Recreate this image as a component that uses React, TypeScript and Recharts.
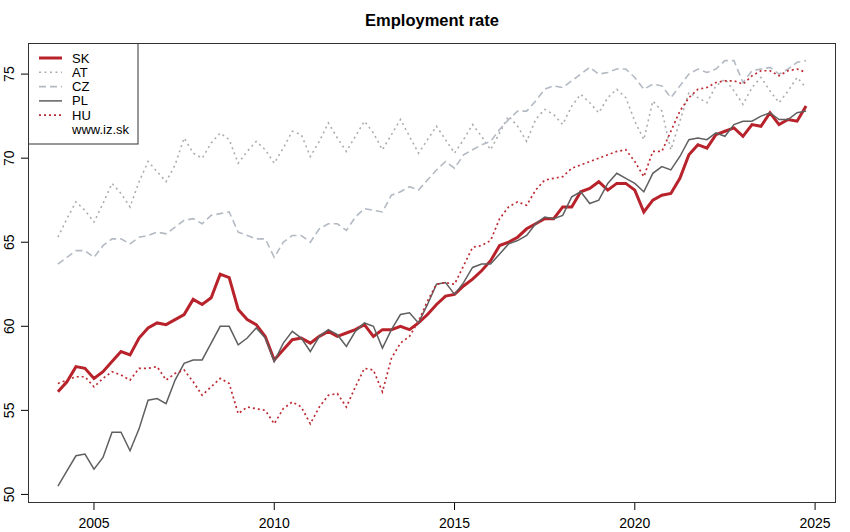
import React from "react";
import { LineChart, Line, XAxis, YAxis } from "recharts";

// quarterly employment rate, 2004Q1 .. 2024Q4
const startYear = 2004;

const SK = [
  56.1, 56.7, 57.6, 57.5, 56.9, 57.3, 57.9, 58.5, 58.3, 59.3, 59.9, 60.2,
  60.1, 60.4, 60.7, 61.6, 61.3, 61.7, 63.1, 62.9, 61.0, 60.4, 60.1, 59.4,
  58.0, 58.6, 59.2, 59.3, 59.0, 59.4, 59.7, 59.4, 59.6, 59.8, 60.1, 59.4,
  59.8, 59.8, 60.0, 59.8, 60.2, 60.7, 61.3, 61.8, 61.9, 62.4, 62.8, 63.3,
  63.9, 64.8, 65.0, 65.3, 65.8, 66.1, 66.4, 66.4, 67.1, 67.1, 68.0, 68.2,
  68.6, 68.1, 68.5, 68.5, 68.1, 66.8, 67.5, 67.8, 67.9, 68.8, 70.2, 70.8,
  70.6, 71.4, 71.6, 71.8, 71.3, 72.0, 71.9, 72.7, 72.0, 72.3, 72.2, 73.1,
];

const AT = [
  65.3, 66.4, 67.4, 66.9, 66.2, 67.3, 68.5, 67.9, 67.1, 68.6, 69.8, 69.2,
  68.6, 69.6, 71.2, 70.3, 70.0, 70.9, 71.5, 71.1, 69.7, 70.4, 71.0, 70.5,
  69.7, 70.6, 71.6, 71.4, 70.1, 71.0, 72.1, 71.2, 70.4, 71.3, 72.2, 71.5,
  70.5, 71.4, 72.3, 71.3, 70.3, 71.1, 71.9, 71.1, 70.3, 71.1, 72.0, 71.3,
  70.5, 71.5, 72.5, 71.9, 71.0, 72.3, 72.9, 72.6, 72.0, 73.1, 73.8, 73.3,
  72.7, 73.6, 74.1, 73.6, 72.2, 71.1, 73.4, 72.8, 70.5, 72.2, 73.9, 73.6,
  73.3, 74.3, 74.7, 74.0, 73.2, 74.2, 74.8, 74.0, 73.3, 74.0, 74.8, 74.2,
];

const CZ = [
  63.7, 64.1, 64.5, 64.5, 64.1, 64.8, 65.2, 65.2, 64.9, 65.3, 65.4, 65.6,
  65.5, 65.9, 66.3, 66.4, 66.1, 66.6, 66.7, 66.8, 65.6, 65.4, 65.2, 65.2,
  64.1, 65.0, 65.4, 65.4, 65.0, 65.8, 66.1, 66.1, 65.7, 66.5, 67.0, 66.9,
  66.8, 67.8, 68.0, 68.3, 68.1, 68.7, 69.3, 69.8, 69.4, 70.2, 70.5, 70.8,
  71.0, 71.7, 72.3, 72.8, 72.8, 73.4, 74.1, 74.3, 74.2, 74.6, 75.0, 75.4,
  75.0, 75.1, 75.3, 75.3, 74.8, 74.1, 74.4, 74.3, 73.6, 74.3, 75.0, 75.3,
  75.1, 75.3, 75.8, 75.8, 74.5, 75.2, 75.3, 75.4, 75.0, 75.3, 75.7, 75.8,
];

const PL = [
  50.5, 51.4, 52.3, 52.4, 51.5, 52.2, 53.7, 53.7, 52.6, 53.9, 55.6, 55.7,
  55.4, 56.8, 57.8, 58.0, 58.0, 59.0, 60.0, 60.0, 58.9, 59.3, 59.9, 59.3,
  57.9, 59.0, 59.7, 59.3, 58.5, 59.4, 59.8, 59.5, 58.8, 59.7, 60.2, 60.0,
  58.7, 59.8, 60.7, 60.8, 60.2, 61.3, 62.5, 62.6, 61.9, 62.6, 63.5, 63.7,
  63.7, 64.3, 64.9, 65.1, 65.4, 66.1, 66.5, 66.4, 66.6, 67.7, 68.0, 67.3,
  67.5, 68.5, 69.1, 68.8, 68.5, 68.0, 69.1, 69.5, 69.3, 70.1, 71.1, 71.2,
  71.1, 71.5, 71.3, 72.0, 72.2, 72.2, 72.5, 72.7, 72.3, 72.3, 72.7, 72.8,
];

const HU = [
  56.6, 56.8, 57.0, 57.0, 56.4, 56.9, 57.3, 57.1, 56.8, 57.5, 57.5, 57.6,
  56.8, 57.2, 57.4, 56.7, 55.9, 56.4, 56.9, 56.6, 54.8, 55.2, 55.1, 55.0,
  54.2, 55.1, 55.5, 55.2, 54.2, 55.2, 55.9, 56.0, 55.2, 56.4, 57.5, 57.4,
  56.1, 58.1, 59.0, 59.4, 60.3, 61.5, 62.5, 62.6, 62.5, 63.6, 64.7, 64.8,
  65.1, 66.4, 67.1, 67.4, 67.2, 68.1, 68.7, 68.8, 68.9, 69.4, 69.6, 69.8,
  70.0, 70.2, 70.4, 70.5, 69.8, 68.9, 70.4, 70.4, 71.6, 72.8, 73.6, 74.1,
  74.2, 74.5, 74.6, 74.6, 74.4, 74.9, 75.2, 75.2, 74.9, 75.2, 75.3, 75.1,
];

const xTicks = [2005, 2010, 2015, 2020, 2025];
const yTicks = [50, 55, 60, 65, 70, 75];

const series = [
  { key: "SK", color: "#B8232B", width: 3, dash: undefined },
  { key: "AT", color: "#ADADAD", width: 1.6, dash: "2 3.5" },
  { key: "CZ", color: "#B3BAC3", width: 1.6, dash: "7 4" },
  { key: "PL", color: "#5F5F5F", width: 1.5, dash: undefined },
  { key: "HU", color: "#BE2A33", width: 1.7, dash: "2 3" },
];

const data = SK.map((v, i) => ({
  t: startYear + i / 4,
  SK: v,
  AT: AT[i],
  CZ: CZ[i],
  PL: PL[i],
  HU: HU[i],
}));

const FONT = "'Liberation Sans', Arial, Helvetica, sans-serif";

const YTick = (props: any) => {
  const { y, payload } = props;
  const bx = 14.5;
  return (
    <text x={bx} y={y} transform={`rotate(-90, ${bx}, ${y})`} textAnchor="middle" fontSize={14} fill="#000" fontFamily={FONT}>
      {payload.value}
    </text>
  );
};

export default function App() {
  return (
    <div style={{ position: "absolute", left: 0, top: 0, width: 850, height: 532, background: "#fff" }}>
      <LineChart width={850} height={532} data={data} margin={{ top: 43, right: 14, bottom: 0, left: 0 }}>
        <XAxis
          dataKey="t"
          type="number"
          domain={[2003.17, 2025.58]}
          ticks={xTicks}
          allowDataOverflow
          height={29}
          axisLine={false}
          tickLine={{ stroke: "#000" }}
          tickSize={7}
          tickMargin={8}
          tick={{ fontSize: 14, fill: "#000", fontFamily: FONT }}
        />
        <YAxis
          type="number"
          domain={[49.49, 76.85]}
          ticks={yTicks}
          allowDataOverflow
          width={28}
          axisLine={false}
          tickLine={{ stroke: "#000" }}
          tickSize={7}
          tick={<YTick />}
        />
        {series.map(s => (
          <Line
            key={s.key}
            type="linear"
            dataKey={s.key}
            stroke={s.color}
            strokeWidth={s.width}
            strokeDasharray={s.dash}
            dot={false}
            activeDot={false}
            isAnimationActive={false}
          />
        ))}
      </LineChart>
      <svg width={850} height={532} style={{ position: "absolute", left: 0, top: 0, pointerEvents: "none" }}>
        <text x={432} y={26} textAnchor="middle" fontSize={16.5} fontWeight="bold" fill="#000" fontFamily={FONT}>
          Employment rate
        </text>
        <rect x={28.5} y={43.5} width={807} height={459} fill="none" stroke="#333" strokeWidth={1} />
        {/* legend */}
        <rect x={28.5} y={43.5} width={109.5} height={100.5} fill="#fff" stroke="#333" strokeWidth={1} />
        {series.map((s, i) => (
          <g key={s.key}>
            <line x1={39} x2={62} y1={58 + i * 14.3} y2={58 + i * 14.3} stroke={s.color} strokeWidth={s.width} strokeDasharray={s.dash} />
            <text x={72} y={62.5 + i * 14.3} fontSize={13} fill="#000" fontFamily={FONT}>{s.key}</text>
          </g>
        ))}
        <text x={72} y={62.5 + 5 * 14.3} fontSize={13} fill="#000" fontFamily={FONT}>www.iz.sk</text>
      </svg>
    </div>
  );
}
